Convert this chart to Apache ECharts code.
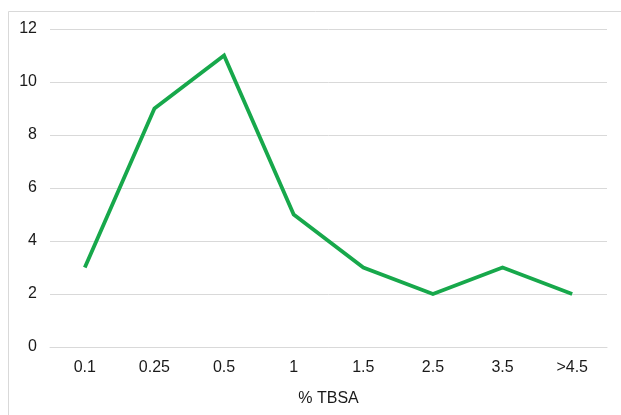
<!DOCTYPE html>
<html>
<head>
<meta charset="utf-8">
<script src="https://cdn.jsdelivr.net/npm/echarts@6/dist/echarts.min.js"></script>
<style>
html,body{margin:0;padding:0;background:#fff;}
#chart{width:621px;height:415px;}
</style>
</head>
<body>
<div id="chart"></div>
<script>
const categories = ["0.1", "0.25", "0.5", "1", "1.5", "2.5", "3.5", ">4.5"];
const values = [3, 9, 11, 5, 3, 2, 3, 2];
const xAxisName = "% TBSA";

const chart = echarts.init(document.getElementById('chart'), null, {renderer: 'canvas'});
const font = 'Arial, "Liberation Sans", sans-serif';
chart.setOption({
  animation: false,
  backgroundColor: '#fff',
  graphic: [{
    type: 'rect',
    silent: true,
    shape: {x: 8.5, y: 11.5, width: 800, height: 600},
    style: {fill: 'none', stroke: '#d9d9d9', lineWidth: 1}
  }],
  grid: {left: 50, right: 14, top: 29, bottom: 68, containLabel: false},
  xAxis: {
    type: 'category',
    data: categories,
    boundaryGap: true,
    name: xAxisName,
    nameLocation: 'middle',
    nameGap: 44,
    nameTextStyle: {fontFamily: font, fontSize: 16, color: '#1a1a1a'},
    axisLine: {show: true, lineStyle: {color: '#d9d9d9', width: 1}},
    axisTick: {show: false},
    axisLabel: {fontFamily: font, fontSize: 16, color: '#1a1a1a', margin: 13}
  },
  yAxis: {
    type: 'value',
    min: 0, max: 12, interval: 2,
    axisLine: {show: false},
    axisTick: {show: false},
    splitLine: {lineStyle: {color: '#d9d9d9', width: 1}},
    axisLabel: {fontFamily: font, fontSize: 16, color: '#1a1a1a', margin: 13}
  },
  series: [{
    type: 'line',
    data: values,
    showSymbol: false,
    symbol: 'none',
    lineStyle: {color: '#17A84B', width: 3.8, join: 'miter'},
    itemStyle: {color: '#17A84B'}
  }]
});
</script>
</body>
</html>
